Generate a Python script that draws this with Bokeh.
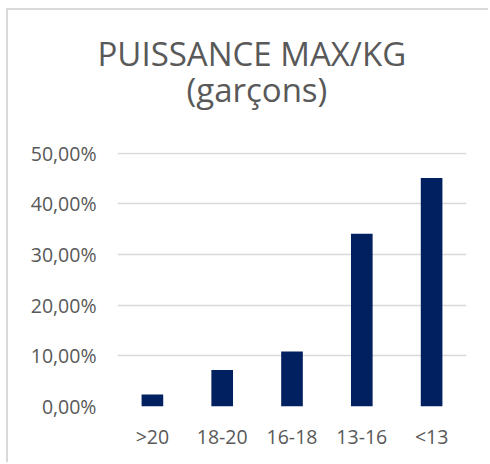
from bokeh.plotting import figure
from bokeh.models import FixedTicker, Title, ColumnDataSource, Range1d
from bokeh.embed import file_html
from bokeh.resources import INLINE

categories = [">20", "18-20", "16-18", "13-16", "<13"]
values = [0.0237, 0.072, 0.1086, 0.3407, 0.4507]
y_ticks = [0.0, 0.1, 0.2, 0.3, 0.4, 0.5]
y_tick_labels = ["0,00%", "10,00%", "20,00%", "30,00%", "40,00%", "50,00%"]
title_lines = ["PUISSANCE MAX/KG", "(garçons)"]

TEXT = "#595959"
FONT = "Open Sans"

source = ColumnDataSource(data=dict(cat=categories, val=values))

p = figure(x_range=categories, y_range=Range1d(0, 0.501), width=482, height=454,
           output_backend="svg", toolbar_location=None, title=None,
           min_border_left=109, min_border_right=24, min_border_top=142, min_border_bottom=58)
p.styles = {"margin-left": "6px", "margin-top": "8px",
            "border-top": "2px solid #d9d9d9", "border-left": "2px solid #d9d9d9"}

p.vbar(x="cat", top="val", width=0.31, source=source, fill_color="#002060", line_color=None)

p.outline_line_color = None
p.background_fill_color = "white"
p.border_fill_color = "white"

p.xgrid.grid_line_color = None
p.ygrid.grid_line_color = "#d9d9d9"
p.ygrid.grid_line_width = 1.5
p.yaxis.ticker = FixedTicker(ticks=y_ticks)
p.yaxis.major_label_overrides = {t: l for t, l in zip(y_ticks, y_tick_labels)}

for ax in (p.xaxis, p.yaxis):
    ax.axis_line_color = None
    ax.major_tick_line_color = None
    ax.minor_tick_line_color = None
    ax.major_label_text_color = TEXT
    ax.major_label_text_font = FONT
    ax.major_label_text_font_size = "19.5px"
p.yaxis.major_label_standoff = 15
p.xaxis.major_label_standoff = 10

# spacer between the plot frame and the two title lines
p.add_layout(Title(text=" ", text_font_size="1px", standoff=38), "above")
p.add_layout(Title(text=title_lines[1], align="left", offset=69, text_color=TEXT,
                   text_font=FONT, text_font_size="33px", text_font_style="normal",
                   standoff=0), "above")
p.add_layout(Title(text=title_lines[0], align="left", offset=-20, text_color=TEXT,
                   text_font=FONT, text_font_size="33px", text_font_style="normal",
                   standoff=-22), "above")

open("out.html", "w").write(file_html(p, INLINE))
